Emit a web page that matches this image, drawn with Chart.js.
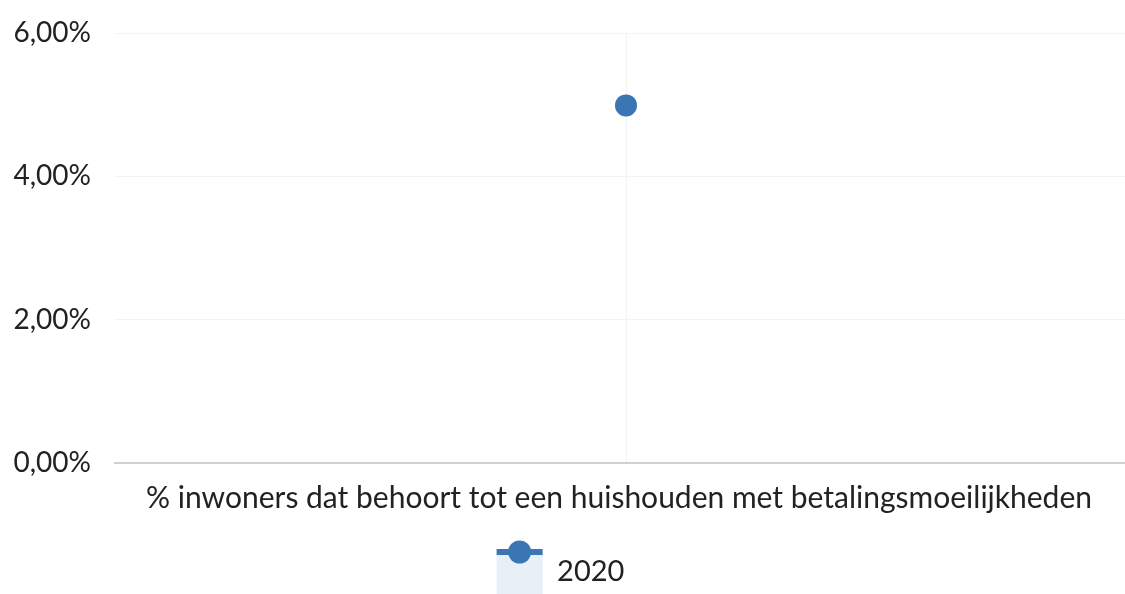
<!DOCTYPE html>
<html><head><meta charset="utf-8">
<script src="https://cdn.jsdelivr.net/npm/chart.js@4"></script>
<style>html,body{margin:0;padding:0;background:#fff;overflow:hidden}#w{width:1137px;height:594px}</style>
</head><body><div id="w"><canvas id="c"></canvas></div>
<script>
const categories = ['% inwoners dat behoort tot een huishouden met betalingsmoeilijkheden'];
const seriesLabel = '2020';
const values2020 = [4.99];
const yTicks = [0, 2, 4, 6];
const blue = '#3a75b4';

const legendSymbol = {
  id: 'legendSymbol',
  afterLayout(chart) {
    const lg = chart.legend;
    if (lg) { lg.left -= 13; lg.right -= 13; }
  },
  afterDraw(chart) {
    const lg = chart.legend;
    if (!lg || !lg.legendHitBoxes) return;
    const ctx = chart.ctx;
    lg.legendHitBoxes.forEach(b => {
      const bw = 46;
      const x0 = b.left, y0 = b.top;
      ctx.save();
      ctx.fillStyle = blue;
      ctx.fillRect(x0, y0, bw, 6);
      ctx.beginPath();
      ctx.arc(x0 + bw / 2, y0 + 3, 11.5, 0, Math.PI * 2);
      ctx.fill();
      ctx.restore();
    });
  }
};

new Chart(document.getElementById('c'), {
  type: 'line',
  data: {
    labels: categories,
    datasets: [{
      label: seriesLabel,
      data: values2020,
      borderColor: blue,
      backgroundColor: '#e8eff7',
      borderWidth: 5,
      pointRadius: 11,
      pointHoverRadius: 11,
      pointBackgroundColor: blue,
      pointBorderWidth: 0
    }]
  },
  options: {
    responsive: true,
    maintainAspectRatio: false,
    animation: false,
    layout: { autoPadding: false, padding: { top: 33, right: 0, left: 10, bottom: -10 } },
    scales: {
      x: {
        offset: true,
        grid: { color: '#f3f3f3', drawTicks: false, offset: false },
        border: { color: '#d0d0d0', width: 2 },
        ticks: { color: '#222', font: { family: 'Lato', size: 30 }, padding: 17, labelOffset: -7 },
        afterFit(s) { s.height += 16; s.paddingLeft = 0; s.paddingRight = 0; }
      },
      y: {
        min: 0, max: 6,
        afterBuildTicks(s) { s.ticks = yTicks.map(v => ({ value: v })); },
        grid: { color: '#f3f3f3', drawTicks: false },
        border: { display: false },
        ticks: {
          color: '#222', font: { family: 'Lato', size: 28 }, padding: 24,
          callback: v => v.toFixed(2).replace('.', ',') + '%'
        },
        afterFit(s) { s.width = 105; s.paddingTop = 0; s.paddingBottom = 0; }
      }
    },
    plugins: {
      tooltip: { enabled: false },
      legend: {
        position: 'bottom',
        labels: {
          boxWidth: 46, boxHeight: 45, padding: 0,
          color: '#222', font: { family: 'Lato', size: 29 },
          generateLabels(chart) {
            return chart.data.datasets.map((d, i) => ({
              text: d.label, fillStyle: '#e8eff7', strokeStyle: '#e8eff7',
              lineWidth: 0, datasetIndex: i, fontColor: '#222'
            }));
          }
        }
      }
    }
  },
  plugins: [legendSymbol]
});
</script></body></html>
